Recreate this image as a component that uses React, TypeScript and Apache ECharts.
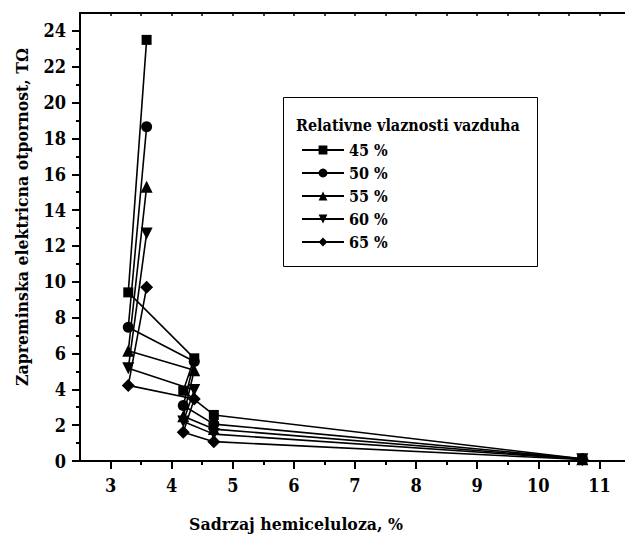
import React, { useEffect, useRef } from "react";
import * as echarts from "echarts";

const xPositions = [3.59, 3.29, 4.37, 4.19, 4.69, 10.72];
const seriesNames = ["45 %", "50 %", "55 %", "60 %", "65 %"];
const rh45 = [23.5, 9.41, 5.73, 3.92, 2.57, 0.12];
const rh50 = [18.65, 7.46, 5.55, 3.1, 2.06, 0.12];
const rh55 = [15.3, 6.15, 5.07, 2.5, 1.78, 0.1];
const rh60 = [12.7, 5.17, 3.96, 2.2, 1.5, 0.1];
const rh65 = [9.69, 4.22, 3.46, 1.6, 1.08, 0.08];
const xMajorTicks = [3, 4, 5, 6, 7, 8, 9, 10, 11];
const xMinorTicks = [3.5, 4.5, 5.5, 6.5, 7.5, 8.5, 9.5, 10.5];
const yMajorTicks = [0, 2, 4, 6, 8, 10, 12, 14, 16, 18, 20, 22, 24];
const yMinorTicks = [1, 3, 5, 7, 9, 11, 13, 15, 17, 19, 21, 23];
const legendTitle = "Relativne vlaznosti vazduha";
const xTitle = "Sadrzaj hemiceluloza, %";
const yTitle = "Zapreminska elektricna otpornost, TΩ";

const FONT = "DejaVu Serif Condensed, DejaVu Serif";

export default function App() {
  const ref = useRef<HTMLDivElement>(null);
  useEffect(() => {
    if (!ref.current) return;
    const chart = echarts.init(ref.current, undefined, { renderer: "svg" });
    const allValues = [rh45, rh50, rh55, rh60, rh65];
    const symbols = [
      { symbol: "rect", size: 10, rotate: 0 },
      { symbol: "circle", size: 11, rotate: 0 },
      { symbol: "triangle", size: 12, rotate: 0 },
      { symbol: "triangle", size: 12, rotate: 180 },
      { symbol: "diamond", size: 13, rotate: 0 },
    ];
    const series = allValues.map((vals, i) => ({
      name: seriesNames[i],
      type: "line",
      xAxisIndex: 0,
      yAxisIndex: 0,
      data: vals.map((v, j) => [xPositions[j], v]),
      symbol: symbols[i].symbol,
      symbolSize: symbols[i].size,
      symbolRotate: symbols[i].rotate,
      showAllSymbol: true,
      lineStyle: { color: "#000", width: 1.6 },
      itemStyle: { color: "#000" },
      z: 3,
    }));
    const xBase = { type: "value", min: 2.5, max: 11.5, gridIndex: 0 };
    const yBase = { type: "value", min: 0, max: 25, gridIndex: 0 };
    chart.setOption({
      animation: false,
      backgroundColor: "#fff",
      textStyle: { fontFamily: FONT },
      grid: { left: 80, top: 13, width: 550, height: 448, containLabel: false, outerBoundsMode: "none" },
      xAxis: [
        {
          ...xBase,
          position: "bottom",
          axisLine: { show: true, lineStyle: { color: "#000", width: 2 } },
          axisTick: { show: true, inside: false, length: 8, lineStyle: { color: "#000", width: 2 }, customValues: xMajorTicks },
          axisLabel: { show: true, margin: 15, color: "#000", fontSize: 18, fontWeight: "bold", fontFamily: FONT, customValues: xMajorTicks },
          splitLine: { show: false },
        },
        {
          ...xBase,
          position: "bottom",
          axisLine: { show: false },
          axisTick: { show: true, inside: false, length: 4, lineStyle: { color: "#000", width: 2 }, customValues: xMinorTicks },
          axisLabel: { show: false },
          splitLine: { show: false },
        },
        {
          ...xBase,
          position: "top",
          axisLine: { show: true, lineStyle: { color: "#000", width: 2 } },
          axisTick: { show: true, inside: true, length: 3, lineStyle: { color: "#000", width: 1.5 }, customValues: [...xMajorTicks, ...xMinorTicks] },
          axisLabel: { show: false },
          splitLine: { show: false },
        },
      ],
      yAxis: [
        {
          ...yBase,
          position: "left",
          axisLine: { show: true, lineStyle: { color: "#000", width: 2 } },
          axisTick: { show: true, inside: false, length: 8, lineStyle: { color: "#000", width: 2 }, customValues: yMajorTicks },
          axisLabel: { show: true, margin: 14, color: "#000", fontSize: 18, fontWeight: "bold", fontFamily: FONT, customValues: yMajorTicks },
          splitLine: { show: false },
        },
        {
          ...yBase,
          position: "left",
          axisLine: { show: false },
          axisTick: { show: true, inside: false, length: 4, lineStyle: { color: "#000", width: 2 }, customValues: yMinorTicks },
          axisLabel: { show: false },
          splitLine: { show: false },
        },
      ],
      legend: {
        show: true,
        orient: "vertical",
        left: 296,
        top: 137,
        itemWidth: 42,
        itemHeight: 11,
        itemGap: 7,
        data: seriesNames,
        textStyle: { color: "#000", fontSize: 16, fontWeight: "bold", fontFamily: FONT },
        selectedMode: false,
        z: 10,
      },
      graphic: [
        {
          type: "rect",
          z: 5,
          shape: { x: 283.5, y: 97.5, width: 254, height: 169 },
          style: { fill: "#fff", stroke: "#000", lineWidth: 1 },
        },
        {
          type: "text",
          z: 6,
          x: 296,
          y: 125,
          style: { text: legendTitle, fill: "#000", fontSize: 16, fontWeight: "bold", fontFamily: FONT, textAlign: "left", textVerticalAlign: "middle" },
        },
        {
          type: "text",
          z: 6,
          x: 296,
          y: 524,
          style: { text: xTitle, fill: "#000", fontSize: 17.5, fontWeight: "bold", fontFamily: FONT, textAlign: "center", textVerticalAlign: "middle" },
        },
        {
          type: "text",
          z: 6,
          x: 22,
          y: 217,
          rotation: Math.PI / 2,
          style: { text: yTitle, fill: "#000", fontSize: 17.5, fontWeight: "bold", fontFamily: FONT, textAlign: "center", textVerticalAlign: "middle" },
        },
      ],
      series,
    });
    return () => chart.dispose();
  }, []);
  return (
    <div
      ref={ref}
      style={{ position: "absolute", left: 0, top: 0, width: 625, height: 537, background: "#fff" }}
    />
  );
}
